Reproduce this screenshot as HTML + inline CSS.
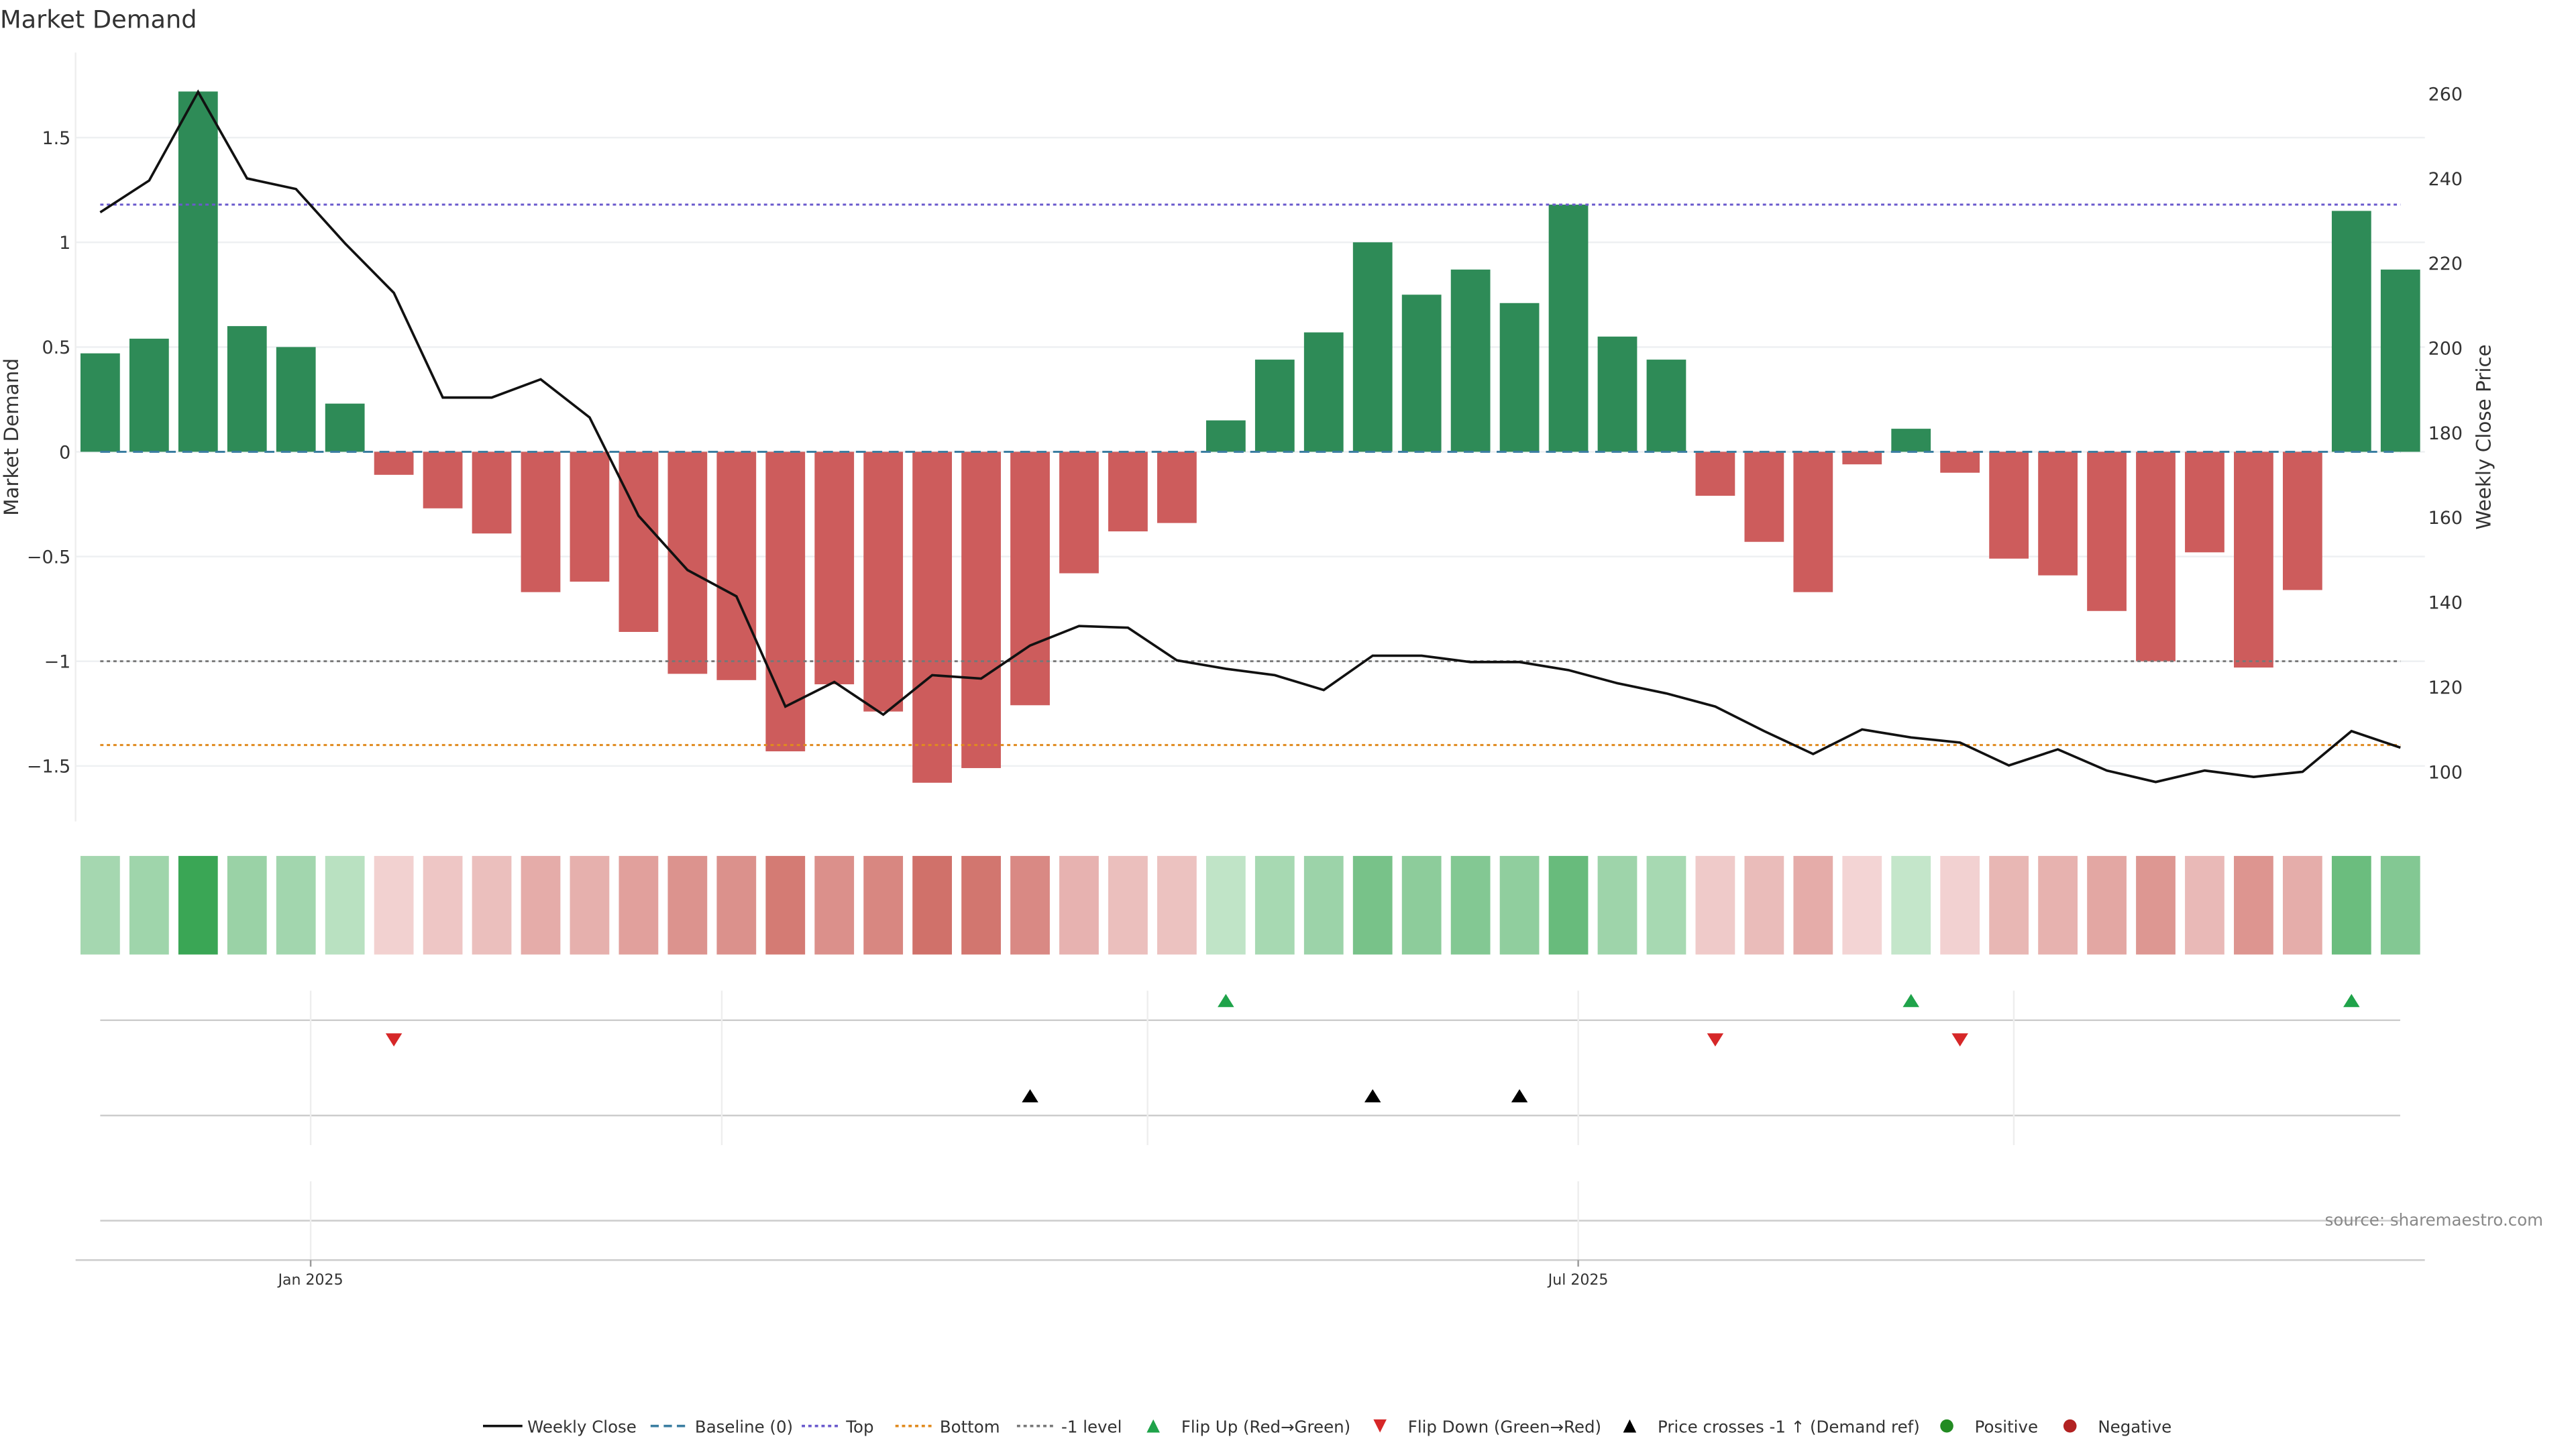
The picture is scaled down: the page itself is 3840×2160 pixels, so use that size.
<!DOCTYPE html>
<html><head><meta charset="utf-8"><style>
html,body{margin:0;padding:0;background:#fff;}
svg{display:block;font-family:"DejaVu Sans","Liberation Sans",sans-serif;}
</style></head><body>
<svg id="chart" width="3840" height="2160" viewBox="0 0 1568 882" xmlns="http://www.w3.org/2000/svg">
<text x="0" y="17" font-size="15" fill="#333">Market Demand</text>
<g id="grid"></g>
<g id="heat"></g>
<g id="bars"></g>
<g id="lines"></g>
<g id="events"></g>
<g id="axes"></g>
<text x="1548" y="746" font-size="10" fill="#888" text-anchor="end">source: sharemaestro.com</text>
<g id="legend"></g>
</svg>
<script>
const demand=[0.47,0.54,1.72,0.60,0.50,0.23,-0.11,-0.27,-0.39,-0.67,-0.62,-0.86,-1.06,-1.09,-1.43,-1.11,-1.24,-1.58,-1.51,-1.21,-0.58,-0.38,-0.34,0.15,0.44,0.57,1.00,0.75,0.87,0.71,1.18,0.55,0.44,-0.21,-0.43,-0.67,-0.06,0.11,-0.10,-0.51,-0.59,-0.76,-1.00,-0.48,-1.03,-0.66,1.15,0.87];
const price=[232,239.5,260.4,240,237.5,224.7,213,188.3,188.3,192.6,183.6,160.4,147.6,141.4,115.4,121.2,113.5,122.8,122,129.8,134.4,134,126.3,124.3,122.8,119.3,127.4,127.4,125.9,125.9,124,120.9,118.5,115.4,109.6,104.2,110,108.1,106.9,101.5,105.3,100.3,97.6,100.3,98.8,100,109.6,105.7];
const flipUp=[23,37,46];
const flipDown=[6,33,38];
const priceCross=[19,26,29];
const leftTicks=[-1.5,-1,-0.5,0,0.5,1,1.5];
const leftTickLabels=["−1.5","−1","−0.5","0","0.5","1","1.5"];
const rightTicks=[100,120,140,160,180,200,220,240,260];
const topLevel=1.18, bottomLevel=-1.40, minusLevel=-1;
const xDates=[{i:4.3,label:"Jan 2025"},{i:30.2,label:"Jul 2025"}];
const monthLines=[4.3,12.7,21.4,30.2,39.1];

const NS="http://www.w3.org/2000/svg";
const X=i=>61+i*29.79;
const YL=v=>275-v*127.5;
const YR=p=>57+(260-p)*2.58;
function mk(tag,attrs,parent,text){const e=document.createElementNS(NS,tag);for(const k in attrs)e.setAttribute(k,attrs[k]);if(text!==undefined)e.textContent=text;document.getElementById(parent).appendChild(e);return e;}

// grid
leftTicks.forEach((t,k)=>{
  const g=mk('line',{x1:46,x2:1476,y1:YL(t),y2:YL(t),stroke:'#eef0f2','stroke-width':1},'grid');
  
  
  const l=mk('text',{x:43,y:YL(t)+4,'font-size':11,'text-anchor':'end',fill:'#333'},'axes',leftTickLabels[k]);
  
  
});
rightTicks.forEach(t=>{
  const l=mk('text',{x:1478,y:YR(t)+4,'font-size':11,fill:'#333'},'axes',String(t));
  
  
});
mk('line',{x1:46,x2:46,y1:32,y2:500,stroke:'#eee'},'axes');
let yt=mk('text',{x:11,y:266,'font-size':12,fill:'#333','text-anchor':'middle',transform:'rotate(-90 11 266)'},'axes','Market Demand');


let yr=mk('text',{x:1516,y:266,'font-size':12,fill:'#333','text-anchor':'middle',transform:'rotate(-90 1516 266)'},'axes','Weekly Close Price');



// bars
demand.forEach((v,i)=>{
  const y=Math.min(YL(v),YL(0)),h=Math.abs(YL(v)-YL(0));
  const b=mk('rect',{x:X(i)-12,y:y,width:24,height:h,fill:v>=0?'#2e8b57':'#cd5c5c'},'bars');
  
  
  // heat cell
  const a=Math.min(1,Math.abs(v)/1.72);
  const lerp=(c1,c2)=>c1.map((c,j)=>Math.round(c+(c2[j]-c)*a));
  const col=v>=0?lerp([205,234,210],[58,166,85]):lerp([244,216,216],[205,104,96]);
  const hc=mk('rect',{x:X(i)-12,y:521,width:24,height:60,fill:`rgb(${col.join(',')})`},'heat');
  
  
});

// reference lines
function hline(v,stroke,dash,name){const l=mk('line',{x1:X(0),x2:X(47),y1:YL(v),y2:YL(v),stroke:stroke,'stroke-width':1.2,'stroke-dasharray':dash},'lines');}
hline(0,'#3b7ea1','6 4','baseline-line');
hline(topLevel,'#6a5acd','2 2','top-line');
hline(bottomLevel,'#e08a1e','2 2','bottom-line');
hline(minusLevel,'#777','2 2','minus-one-line');

// price line
const pl=mk('polyline',{points:price.map((p,i)=>X(i)+','+YR(p)).join(' '),fill:'none',stroke:'#111','stroke-width':1.5},'lines');



// event panels
[[621,'flip-row-line'],[679,'cross-row-line'],[743,'extra-row-line']].forEach(([y,n])=>{
  const l=mk('line',{x1:61,x2:1461,y1:y,y2:y,stroke:'#ccc'},'events');
  
  
});
monthLines.forEach(m=>{
  mk('line',{x1:X(m),x2:X(m),y1:603,y2:697,stroke:'#eee'},'events');
});
[4.3,30.2].forEach(m=>mk('line',{x1:X(m),x2:X(m),y1:719,y2:767,stroke:'#eee'},'events'));
function tri(i,y,up,fill,name){const x=X(i);const pts=up?`${x-5},${y+4} ${x+5},${y+4} ${x},${y-4}`:`${x-5},${y-4} ${x+5},${y-4} ${x},${y+4}`;const t=mk('polygon',{points:pts,fill:fill},'events');}
flipUp.forEach(i=>tri(i,609,true,'#1fa34a','flip-up-marker'));
flipDown.forEach(i=>tri(i,633,false,'#d62728','flip-down-marker'));
priceCross.forEach(i=>tri(i,667,true,'#000','price-cross-marker'));
mk('line',{x1:46,x2:1476,y1:767,y2:767,stroke:'#ccc'},'axes');
xDates.forEach(d=>{
  mk('line',{x1:X(d.i),x2:X(d.i),y1:767,y2:771,stroke:'#999'},'axes');
  const t=mk('text',{x:X(d.i),y:782,'font-size':9,'text-anchor':'middle',fill:'#333'},'axes',d.label);
  
  
});

// legend
const L=[
 {x:294,t:'Weekly Close',k:'line',c:'#111',d:''},
 {x:396,t:'Baseline (0)',k:'line',c:'#3b7ea1',d:'5 3'},
 {x:488,t:'Top',k:'line',c:'#6a5acd',d:'2 2'},
 {x:545,t:'Bottom',k:'line',c:'#e08a1e',d:'2 2'},
 {x:619,t:'-1 level',k:'line',c:'#777',d:'2 2'},
 {x:697,t:'Flip Up (Red→Green)',k:'up',c:'#1fa34a'},
 {x:835,t:'Flip Down (Green→Red)',k:'down',c:'#d62728'},
 {x:987,t:'Price crosses -1 ↑ (Demand ref)',k:'up',c:'#000'},
 {x:1180,t:'Positive',k:'dot',c:'#228b22'},
 {x:1255,t:'Negative',k:'dot',c:'#b22222'}];
L.forEach(e=>{
  const y=868;
  if(e.k==='line')mk('line',{x1:e.x,x2:e.x+24,y1:y,y2:y,stroke:e.c,'stroke-width':1.5,'stroke-dasharray':e.d},'legend');
  else if(e.k==='up')mk('polygon',{points:`${e.x+1},${y+4} ${e.x+9},${y+4} ${e.x+5},${y-4}`,fill:e.c},'legend');
  else if(e.k==='down')mk('polygon',{points:`${e.x+1},${y-4} ${e.x+9},${y-4} ${e.x+5},${y+4}`,fill:e.c},'legend');
  else mk('circle',{cx:e.x+5,cy:y,r:4,fill:e.c},'legend');
  const tx=e.x+(e.k==='line'?27:22);
  const t=mk('text',{x:tx,y:y+4,'font-size':10,fill:'#333'},'legend',e.t);
  
  
});
</script>
</body></html>
